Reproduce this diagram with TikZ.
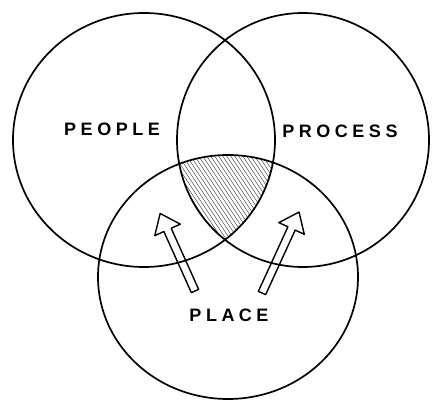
\documentclass[tikz,border=0pt]{standalone}
\usepackage{fontspec}
\setmainfont{Liberation Sans}
\newfontfamily\handfont[LetterSpace=25]{Liberation Sans}
\begin{document}
\begin{tikzpicture}[x=1pt,y=-1pt,
  ring/.style={draw=black,line width=1.7pt},
  label/.style={font=\handfont\bfseries\fontsize{18}{18}\selectfont,inner sep=0pt},
  hollowarrow/.style={draw=black,line width=1.4pt,line join=round},
  hatch/.style={draw=black!70,line width=0.5pt}]
\useasboundingbox (0,0) rectangle (432,401);
\fill[white] (0,0) rectangle (432,401);
\coordinate (cpeople) at (144,140);
\coordinate (cprocess) at (303,140);
\coordinate (cplace) at (228,277);
% hatched triple intersection
\begin{scope}
  \clip (cpeople) ellipse[x radius=131pt, y radius=127pt];
  \clip (cprocess) ellipse[x radius=126pt, y radius=127pt];
  \clip (cplace) ellipse[x radius=130pt, y radius=122pt];
  \foreach \i in {100,104,...,360} {
    \draw[hatch] (\i,260) -- ++(-80,-120);
  }
\end{scope}
% circles
\draw[ring] (cpeople) ellipse[x radius=131pt, y radius=127pt];
\draw[ring] (cprocess) ellipse[x radius=126pt, y radius=127pt];
\draw[ring] (cplace) ellipse[x radius=130pt, y radius=122pt];
% labels
\node[label] (people) at (112,129) {PEOPLE};
\node[label] (process) at (340,131) {PROCESS};
\node[label] (place) at (229,315) {PLACE};
% hollow arrows
\coordinate (ltail) at (195,291);
\coordinate (ltip) at (160,213);
\coordinate (rtail) at (262,293);
\coordinate (rtip) at (299,212);
\begin{scope}[shift={(ltail)},rotate=114.2]
  \draw[hollowarrow] (0,-4) -- (67,-4) -- (67,-14) -- (85,0) -- (67,14) -- (67,4) -- (0,4) -- cycle;
\end{scope}
\begin{scope}[shift={(rtail)},rotate=65.4]
  \draw[hollowarrow] (0,-4) -- (71,-4) -- (71,-14) -- (89,0) -- (71,14) -- (71,4) -- (0,4) -- cycle;
\end{scope}
\end{tikzpicture}
\end{document}
